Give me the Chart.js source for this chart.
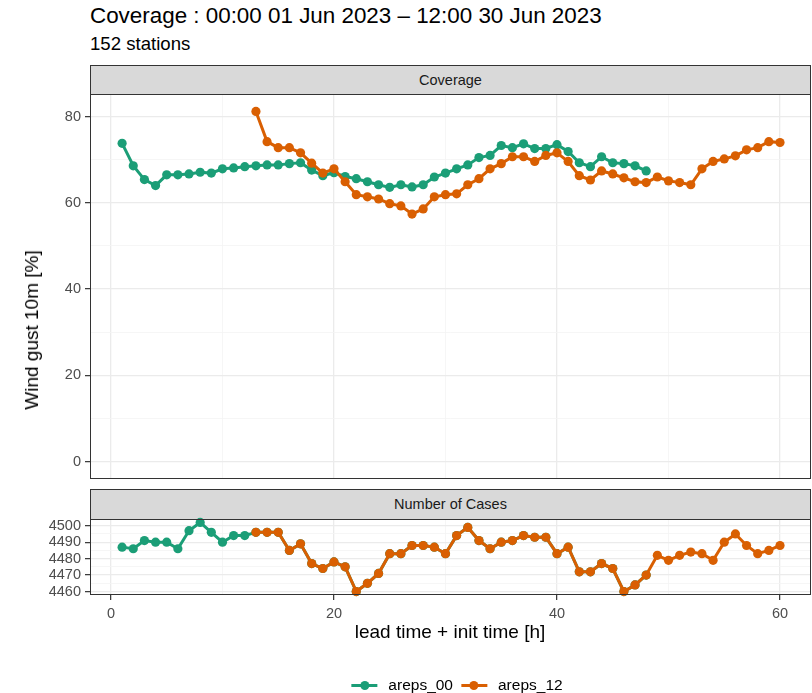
<!DOCTYPE html>
<html>
<head>
<meta charset="utf-8">
<script src="https://cdn.jsdelivr.net/npm/chart.js@4.4.0/dist/chart.umd.min.js"></script>
<style>
  body { margin: 0; background: #fff; font-family: "Liberation Sans", Arial, sans-serif; }
  #page { position: relative; width: 812px; height: 693px; overflow: hidden; }
  .abs { position: absolute; }
  #title { left: 90px; top: 3px; font-size: 22.4px; color: #000; white-space: nowrap; }
  #subtitle { left: 90px; top: 33px; font-size: 18.6px; color: #000; white-space: nowrap; }
  .strip { left: 90px; width: 721px; background: #D9D9D9; border: 1px solid #333; box-sizing: border-box;
           font-size: 14.5px; color: #1A1A1A; text-align: center; }
  #ytitle { left: 32px; top: 330px; font-size: 19px; color: #000; white-space: nowrap;
            transform: translate(-50%, -50%) rotate(-90deg); }
  #xtitle { left: 450px; top: 632px; font-size: 19px; color: #000; white-space: nowrap;
            transform: translate(-50%, -50%); }
  #legend { left: 457px; top: 685px; transform: translate(-50%, -50%); display: flex; align-items: center;
            font-size: 15.5px; color: #000; white-space: nowrap; }
  .key { position: relative; width: 26px; height: 16px; margin-right: 11px; }
  .key::before { content: ""; position: absolute; left: 0; right: 0; top: 6.5px; height: 3px; background: var(--c); }
  .key::after { content: ""; position: absolute; left: 8.5px; top: 3.5px; width: 9px; height: 9px; border-radius: 50%; background: var(--c); }
  .lab { margin-right: 8px; }
</style>
</head>
<body>
<div id="page">
  <div id="title" class="abs">Coverage : 00:00 01 Jun 2023 – 12:00 30 Jun 2023</div>
  <div id="subtitle" class="abs">152 stations</div>
  <div class="abs strip" style="top:65px;height:30px;line-height:28px;">Coverage</div>
  <div class="abs" style="left:0;top:94px;"><canvas id="cover" width="812" height="385"></canvas></div>
  <div class="abs strip" style="top:489px;height:31px;line-height:29px;">Number of Cases</div>
  <div class="abs" style="left:0;top:513px;"><canvas id="cases" width="812" height="112"></canvas></div>
  <div id="ytitle" class="abs">Wind gust 10m [%]</div>
  <div id="xtitle" class="abs">lead time + init time [h]</div>
  <div id="legend" class="abs">
    <span class="key" style="--c:#1B9E77"></span><span class="lab">areps_00</span>
    <span class="key" style="--c:#D95F02"></span><span class="lab" style="margin-right:0">areps_12</span>
  </div>
</div>
<script>
// lead times (hours) for each init time
const hours00 = [1, 2, 3, 4, 5, 6, 7, 8, 9, 10, 11, 12, 13, 14, 15, 16, 17, 18, 19, 20, 21, 22, 23, 24,
  25, 26, 27, 28, 29, 30, 31, 32, 33, 34, 35, 36, 37, 38, 39, 40, 41, 42, 43, 44, 45, 46, 47, 48];
const hours12 = [13, 14, 15, 16, 17, 18, 19, 20, 21, 22, 23, 24, 25, 26, 27, 28, 29, 30, 31, 32, 33, 34, 35, 36,
  37, 38, 39, 40, 41, 42, 43, 44, 45, 46, 47, 48, 49, 50, 51, 52, 53, 54, 55, 56, 57, 58, 59, 60];

// coverage [%]
const cover00 = [73.8, 68.6, 65.4, 64.0, 66.5, 66.5, 66.7, 67.1, 66.9, 67.9, 68.1, 68.4, 68.6, 68.8, 68.8, 69.1,
  69.3, 67.6, 66.3, 67.0, 66.1, 65.6, 64.9, 64.2, 63.6, 64.2, 63.7, 64.2, 66.0, 66.9, 67.9, 68.8,
  70.5, 71.0, 73.3, 72.8, 73.7, 72.6, 72.6, 73.5, 71.9, 69.3, 68.4, 70.7, 69.3, 69.1, 68.6, 67.4];
const cover12 = [81.2, 74.2, 72.8, 72.8, 71.6, 69.2, 66.9, 67.9, 64.9, 61.9, 61.4, 60.9, 59.8, 59.3, 57.4, 58.6,
  61.4, 61.9, 62.1, 64.2, 65.6, 67.9, 69.1, 70.7, 70.7, 69.6, 71.0, 71.6, 69.6, 66.3, 65.3, 67.4,
  66.7, 65.8, 64.9, 64.7, 66.0, 65.1, 64.7, 64.2, 67.9, 69.6, 70.2, 70.9, 72.3, 72.8, 74.2, 74.0];

// number of cases
const cases00 = [4487, 4486, 4491, 4490, 4490, 4486, 4497, 4502, 4496, 4490, 4494, 4494, 4496, 4496, 4496, 4485,
  4489, 4477, 4474, 4478, 4475, 4460, 4465, 4471, 4483, 4483, 4488, 4488, 4487, 4483, 4494, 4499,
  4491, 4486, 4490, 4491, 4494, 4493, 4493, 4483, 4487, 4472, 4472, 4477, 4474, 4460, 4464, 4470];
const cases12 = [4496, 4496, 4496, 4485, 4489, 4477, 4474, 4478, 4475, 4460, 4465, 4471, 4483, 4483, 4488, 4488,
  4487, 4483, 4494, 4499, 4491, 4486, 4490, 4491, 4494, 4493, 4493, 4483, 4487, 4472, 4472, 4477,
  4474, 4460, 4464, 4470, 4482, 4479, 4482, 4484, 4483, 4479, 4490, 4495, 4488, 4483, 4485, 4488];

// axis breaks
const xGrid = [0, 10, 20, 30, 40, 50, 60];
const xTicks = [0, 20, 40, 60];
const coverGrid = [0, 10, 20, 30, 40, 50, 60, 70, 80];
const coverTicks = [0, 20, 40, 60, 80];
const casesGrid = [4460, 4465, 4470, 4475, 4480, 4485, 4490, 4495, 4500];
const casesTicks = [4460, 4470, 4480, 4490, 4500];

const green = "#1B9E77";
const orange = "#D95F02";
const tickFont = { family: "'Liberation Sans', Arial, sans-serif", size: 14.5 };

function pairs(xs, ys) {
  return xs.map((x, i) => ({ x: x, y: ys[i] }));
}

function series(label, xs, ys, color, order) {
  return {
    label: label,
    data: pairs(xs, ys),
    borderColor: color,
    backgroundColor: color,
    pointBackgroundColor: color,
    pointBorderWidth: 0,
    pointRadius: 4.6,
    borderWidth: 3,
    tension: 0,
    clip: false,
    order: order,
  };
}

const panelBorder = {
  id: "panelBorder",
  afterDraw(chart) {
    const a = chart.chartArea;
    const ctx = chart.ctx;
    ctx.save();
    ctx.strokeStyle = "#333333";
    ctx.lineWidth = 1;
    ctx.strokeRect(Math.round(a.left) + 0.5, Math.round(a.top) + 0.5,
      Math.round(a.right - a.left) - 1, Math.round(a.bottom - a.top) - 1);
    ctx.restore();
  },
};

// keep the panel edges exactly where the layout padding says
function noLabelPadding(s) {
  s.paddingTop = 0;
  s.paddingBottom = 0;
  s.paddingLeft = 0;
  s.paddingRight = 0;
}

function gridOpts(major, showTicks) {
  return {
    color: (c) => (major.includes(c.tick.value) ? "#EBEBEB" : "#F4F4F4"),
    lineWidth: (c) => (major.includes(c.tick.value) ? 1.3 : 0.8),
    drawTicks: showTicks,
    tickLength: 5,
    tickWidth: 1.2,
    tickColor: (c) => (major.includes(c.tick.value) ? "#333333" : "rgba(0,0,0,0)"),
  };
}

function xScale(showLabels) {
  return {
    type: "linear",
    min: -1.88,
    max: 62.78,
    afterBuildTicks: (s) => { s.ticks = xGrid.map((v) => ({ value: v })); },
    afterFit: (s) => { s.height = showLabels ? 30 : 0; noLabelPadding(s); },
    ticks: {
      display: showLabels,
      autoSkip: false,
      maxRotation: 0,
      padding: 5,
      color: "#4D4D4D",
      font: tickFont,
      callback: (v) => (xTicks.includes(v) ? String(v) : ""),
    },
    grid: gridOpts(xTicks, showLabels),
    border: { display: false },
  };
}

function yScale(min, max, grid, ticks) {
  return {
    type: "linear",
    min: min,
    max: max,
    afterBuildTicks: (s) => { s.ticks = grid.map((v) => ({ value: v })); },
    afterFit: (s) => { s.width = 90; noLabelPadding(s); },
    ticks: {
      autoSkip: false,
      padding: 4,
      color: "#4D4D4D",
      font: tickFont,
      callback: (v) => (ticks.includes(v) ? String(v) : ""),
    },
    grid: gridOpts(ticks, true),
    border: { display: false },
  };
}

const common = {
  responsive: false,
  animation: false,
  devicePixelRatio: 1,
  plugins: { legend: { display: false }, tooltip: { enabled: false } },
};

new Chart(document.getElementById("cover"), {
  type: "line",
  data: {
    datasets: [
      series("areps_00", hours00, cover00, green, 2),
      series("areps_12", hours12, cover12, orange, 1),
    ],
  },
  options: Object.assign({}, common, {
    layout: { autoPadding: false, padding: { left: 0, right: 1, top: 0, bottom: 0 } },
    scales: { x: xScale(false), y: yScale(-4.05, 85.25, coverGrid, coverTicks) },
  }),
  plugins: [panelBorder],
});

new Chart(document.getElementById("cases"), {
  type: "line",
  data: {
    datasets: [
      series("areps_00", hours00, cases00, green, 2),
      series("areps_12", hours12, cases12, orange, 1),
    ],
  },
  options: Object.assign({}, common, {
    layout: { autoPadding: false, padding: { left: 0, right: 1, top: 6, bottom: 0 } },
    scales: { x: xScale(true), y: yScale(4457.9, 4504.1, casesGrid, casesTicks) },
  }),
  plugins: [panelBorder],
});
</script>
</body>
</html>
